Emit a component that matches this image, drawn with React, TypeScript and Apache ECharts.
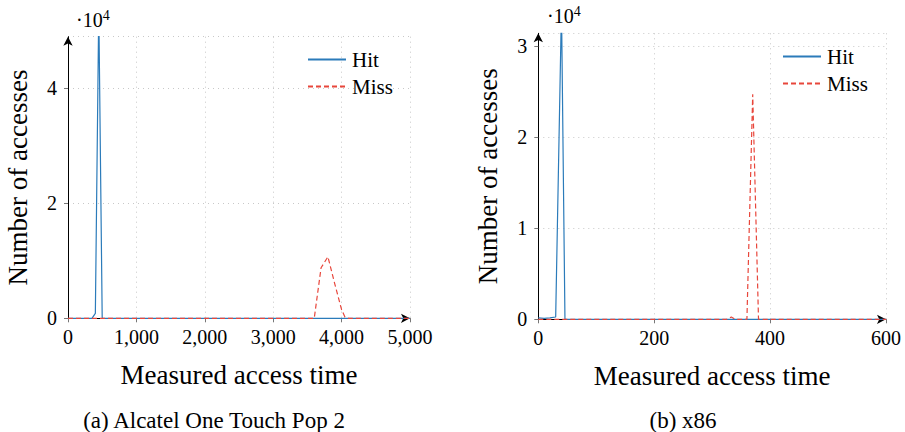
import React, { useEffect, useRef } from "react";
import * as echarts from "echarts";

// Alcatel One Touch Pop 2 (left)
const hitA: [number, number][] = [[0, 0], [350, 0], [400, 870], [450, 54000], [500, 0], [5000, 0]];
const missA: [number, number][] = [[0, 0], [3600, 0], [3700, 8800], [3800, 10700], [3900, 6000], [4000, 1500], [4050, 200], [4100, 0], [5000, 0]];
// x86 (right)
const hitB: [number, number][] = [[0, 150], [10, 100], [20, 150], [30, 250], [40, 34300], [46, 0], [600, 0]];
const missB: [number, number][] = [[0, 0], [325, 0], [333, 250], [340, 0], [360, 0], [370, 24700], [380, 0], [600, 0]];

const xTicksA = { min: 0, max: 5000, interval: 1000 };
const yTicksA = { min: 0, max: 49000, interval: 20000 };
const xTicksB = { min: 0, max: 600, interval: 200 };
const yTicksB = { min: 0, max: 31400, interval: 10000 };

const captions = ["(a) Alcatel One Touch Pop 2", "(b) x86"];
const seriesNames = ["Hit", "Miss"];

const FONT = "Liberation Serif";
const HIT_COLOR = "#2b7bba";
const MISS_COLOR = "#e8463b";

export default function App() {
  const ref = useRef<HTMLDivElement>(null);
  useEffect(() => {
    if (!ref.current) return;
    const chart = echarts.init(ref.current, undefined, { renderer: "svg" });
    const axisCommon = {
      axisLine: { show: true, lineStyle: { color: "#000", width: 1 }, symbol: ["none", "arrow"], symbolSize: [7, 9] },
      axisTick: { show: true, length: 4, lineStyle: { color: "#777" } },
      splitLine: { show: true, lineStyle: { color: "#c8c8c8", type: [1, 4], width: 1 } },
      nameTextStyle: { fontFamily: FONT, fontSize: 27, color: "#000" },
    };
    const xAxis = (gridIndex: number, t: any, fmt: (v: number) => string) => ({
      type: "value",
      gridIndex,
      ...t,
      ...axisCommon,
      name: "Measured access time",
      nameLocation: "middle",
      nameGap: 43,
      axisLabel: { fontFamily: FONT, fontSize: 20, color: "#000", margin: 9, formatter: fmt, showMinLabel: true, showMaxLabel: true },
    });
    const yAxis = (gridIndex: number, t: any) => ({
      type: "value",
      gridIndex,
      ...t,
      ...axisCommon,
      name: "Number of accesses",
      nameLocation: "middle",
      nameRotate: 90,
      nameGap: 37,
      axisLabel: { fontFamily: FONT, fontSize: 20, color: "#000", margin: 11, formatter: (v: number) => String(v / 10000), showMaxLabel: false },
    });
    const line = (name: string, data: [number, number][], idx: number, color: string, dashed: boolean) => ({
      type: "line",
      name,
      xAxisIndex: idx,
      yAxisIndex: idx,
      data,
      symbol: "none",
      clip: true,
      lineStyle: { color, width: 1.2, type: dashed ? [5, 3] : "solid" },
      itemStyle: { color },
      z: dashed ? 3 : 2,
    });
    const legend = (left: number, top: number) => ({
      left,
      top,
      orient: "vertical",
      padding: 0,
      itemWidth: 38,
      itemHeight: 20,
      itemGap: 6,
      data: seriesNames,
      selectedMode: false,
      itemStyle: { opacity: 0 },
      textStyle: { fontFamily: FONT, fontSize: 21, color: "#000", padding: [0, 0, 0, 1] },
    });
    const expText = (x: number, y: number) => ({
      type: "text",
      x,
      y,
      style: {
        text: "·10{s|4}",
        fontFamily: FONT,
        fontSize: 20,
        fill: "#000",
        rich: { s: { fontFamily: FONT, fontSize: 14, verticalAlign: "top", padding: [0, 0, 10, 0] } },
      },
    });
    chart.setOption({
      animation: false,
      grid: [
        { left: 68, top: 36.7, width: 342, height: 281.6 },
        { left: 538.3, top: 33.3, width: 347.7, height: 286 },
      ],
      xAxis: [
        xAxis(0, xTicksA, (v: number) => v.toLocaleString("en-US")),
        xAxis(1, xTicksB, (v: number) => String(v)),
      ],
      yAxis: [yAxis(0, yTicksA), yAxis(1, yTicksB)],
      legend: [legend(307, 49), legend(782, 46)],
      series: [
        line(seriesNames[0], hitA, 0, HIT_COLOR, false),
        line(seriesNames[1], missA, 0, MISS_COLOR, true),
        line(seriesNames[0], hitB, 1, HIT_COLOR, false),
        line(seriesNames[1], missB, 1, MISS_COLOR, true),
      ],
      graphic: [
        expText(76, 8),
        expText(547, 4),
        {
          type: "text",
          x: 214,
          y: 420,
          style: { text: captions[0], fontFamily: FONT, fontSize: 23, fill: "#000", align: "center", verticalAlign: "middle" },
        },
        {
          type: "text",
          x: 683,
          y: 420,
          style: { text: captions[1], fontFamily: FONT, fontSize: 23, fill: "#000", align: "center", verticalAlign: "middle" },
        },
      ],
    });
    return () => chart.dispose();
  }, []);
  return <div ref={ref} style={{ position: "fixed", left: 0, top: 0, width: 905, height: 432, background: "#fff" }} />;
}
